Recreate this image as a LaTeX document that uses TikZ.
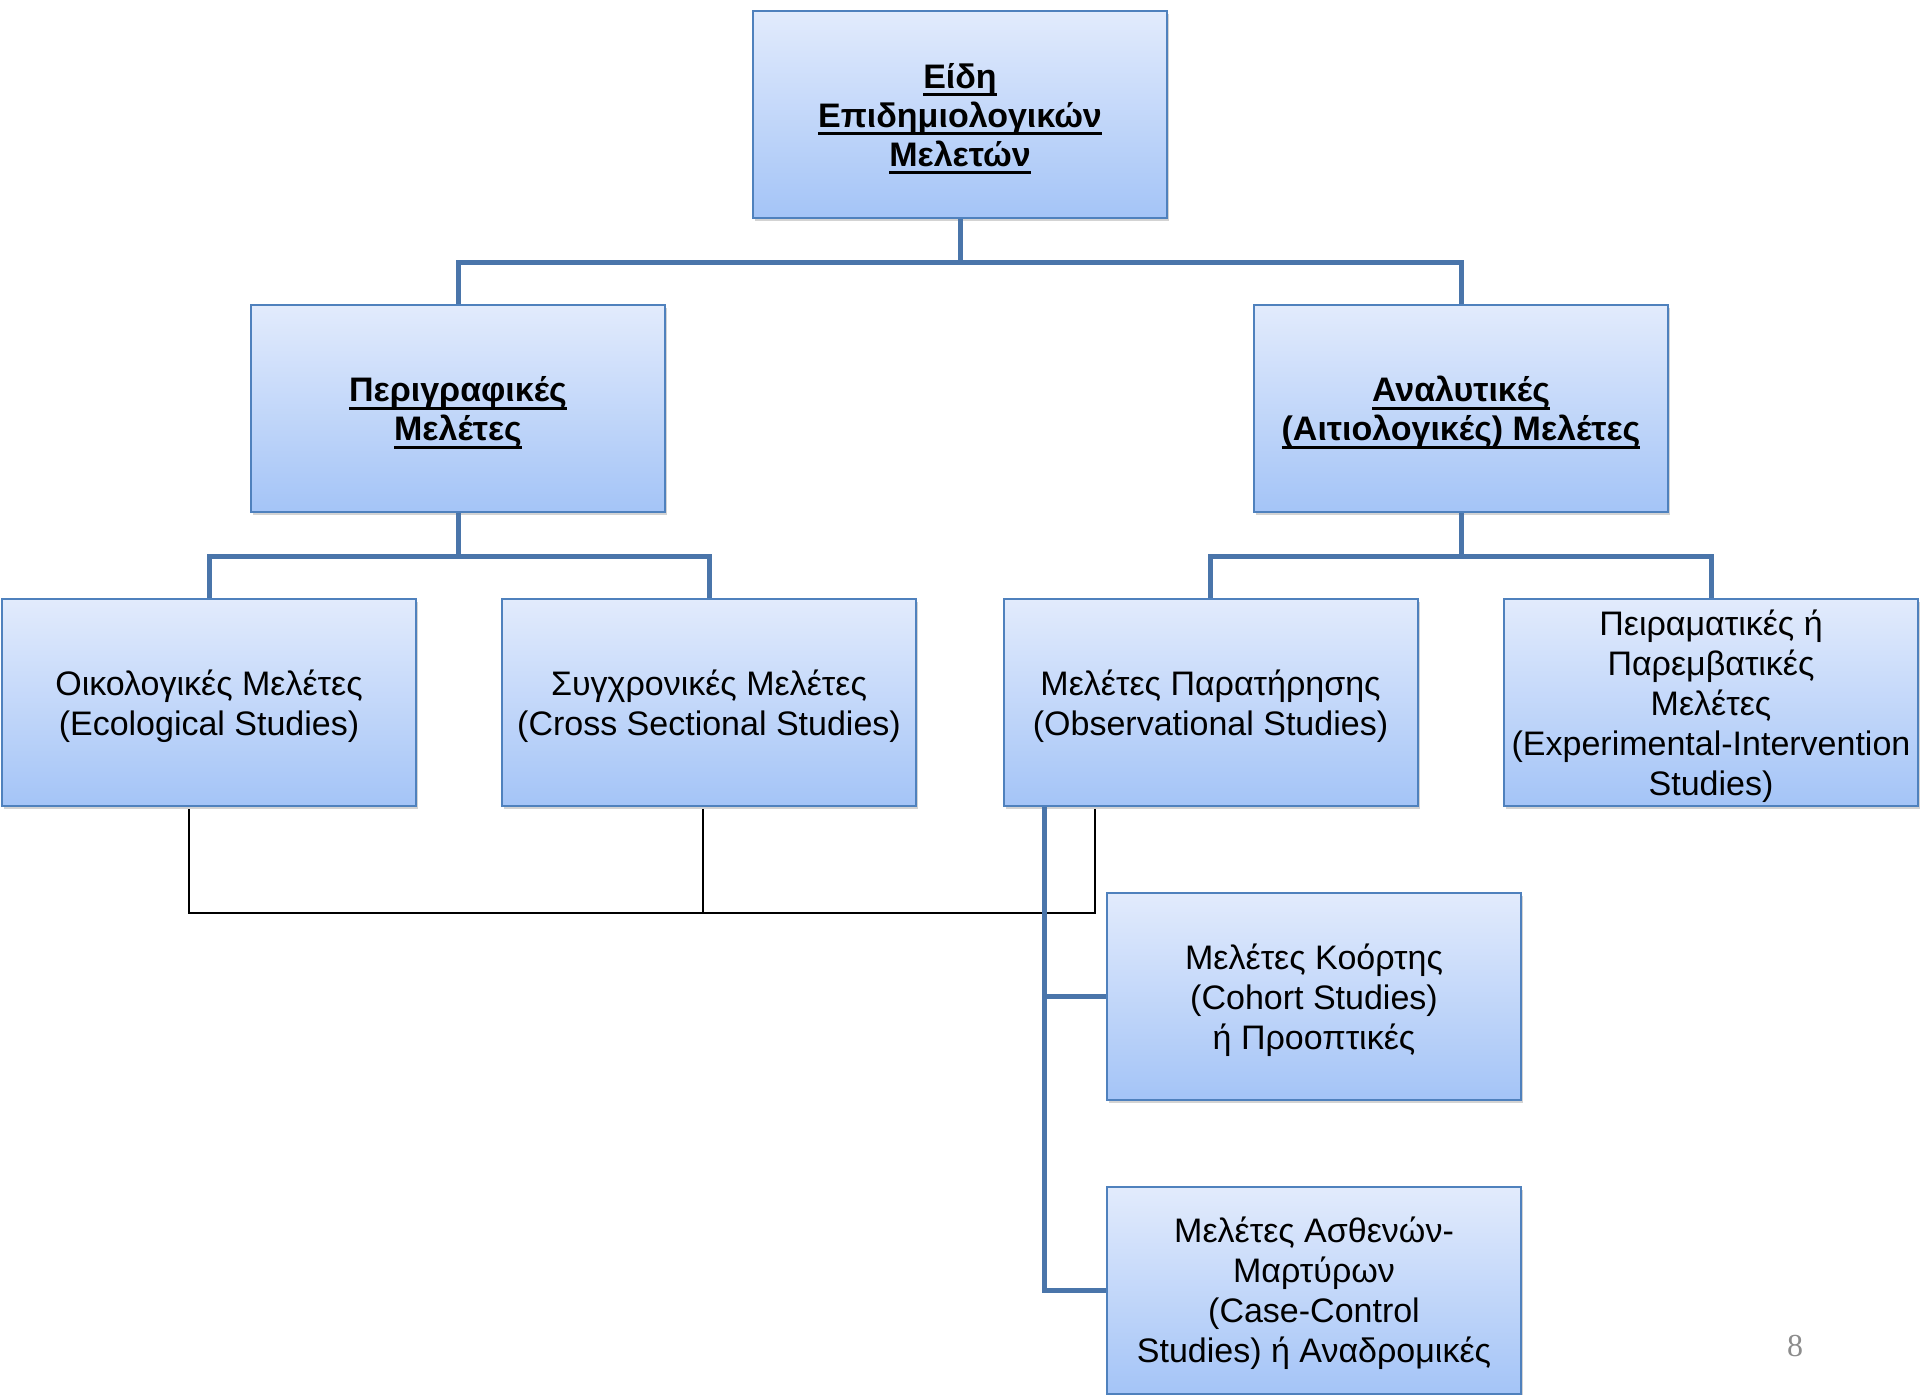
\documentclass[tikz,border=0pt]{standalone}
\usepackage{fontspec}
\setmainfont{Liberation Sans}
\newfontfamily\pagefont{Liberation Serif}
\usetikzlibrary{shadows,calc}

\definecolor{boxtop}{RGB}{226,235,252}
\definecolor{boxbot}{RGB}{164,196,247}
\definecolor{boxedge}{RGB}{79,129,189}
\definecolor{linkblue}{RGB}{74,117,170}
\definecolor{pagegray}{RGB}{140,140,140}

% underlined heading text with a thick rule below the baseline
\newcommand\ulbox[1]{\setbox0=\hbox{#1}\rlap{\rule[-4pt]{\wd0}{1.3pt}}\box0}

\begin{document}
\begin{tikzpicture}[x=0.5pt,y=-0.5pt,
  studybox/.style={draw=boxedge, line width=1pt, top color=boxtop, bottom color=boxbot,
    minimum width=207pt, minimum height=103.5pt, inner sep=0pt,
    drop shadow={shadow xshift=1.2pt, shadow yshift=-1.6pt, opacity=0.35}},
  boxtext/.style={align=center, inner sep=1pt, font=\fontsize{17}{20}\selectfont},
  headtext/.style={boxtext, font=\bfseries\fontsize{17}{19.5}\selectfont},
  tree/.style={draw=linkblue, line width=2.5pt},
  thinlink/.style={draw=black, line width=1pt}]

\useasboundingbox (0,0) rectangle (1920,1394);

% level of the thin link bar
\coordinate (bar) at (0,913);

% boxes
\node[studybox] (root) at (960,114.5) {};
\node[studybox] (desc) at (458,408.5) {};
\node[studybox] (anal) at (1461,408.5) {};
\node[studybox] (eco) at (209,702.5) {};
\node[studybox] (cross) at (709,702.5) {};
\node[studybox] (obs) at (1210.5,702.5) {};
\node[studybox] (expt) at (1711,702.5) {};
\node[studybox] (coh) at (1314,996.5) {};
\node[studybox] (cc) at (1314,1290.5) {};

% box texts, set slightly below the box centres
\node[headtext] (rootT) at ($(root.center)+(0,4)$) {\ulbox{Είδη}\\\ulbox{Επιδημιολογικών}\\\ulbox{Μελετών}};
\node[headtext] (descT) at ($(desc.center)+(0,4)$) {\ulbox{Περιγραφικές}\\\ulbox{Μελέτες}};
\node[headtext] (analT) at ($(anal.center)+(0,4)$) {\ulbox{Αναλυτικές}\\\ulbox{(Αιτιολογικές) Μελέτες}};
\node[boxtext] (ecoT) at ($(eco.center)+(0,4)$) {Οικολογικές Μελέτες\\(Ecological Studies)};
\node[boxtext] (crossT) at ($(cross.center)+(0,4)$) {Συγχρονικές Μελέτες\\(Cross Sectional Studies)};
\node[boxtext] (obsT) at ($(obs.center)+(0,4)$) {Μελέτες Παρατήρησης\\(Observational Studies)};
\node[boxtext] (exptT) at ($(expt.center)+(0,4)$) {Πειραματικές ή\\Παρεμβατικές\\Μελέτες\\(Experimental-Intervention\\Studies)};
\node[boxtext] (cohT) at ($(coh.center)+(0,4)$) {Μελέτες Κοόρτης\\(Cohort Studies)\\ή Προοπτικές};
\node[boxtext] (ccT) at ($(cc.center)+(0,3)$) {Μελέτες Ασθενών-\\Μαρτύρων\\(Case-Control\\Studies) ή Αναδρομικές};

\node[font=\pagefont\fontsize{16}{16}\selectfont, text=pagegray] (pg) at (1795,1346) {8};

% tree connectors
\draw[tree] (root.south) -- ++(0,43) -| (desc.north);
\draw[tree] (root.south) -- ++(0,43) -| (anal.north);
\draw[tree] (desc.south) -- ++(0,43) -| (eco.north);
\draw[tree] (desc.south) -- ++(0,43) -| (cross.north);
\draw[tree] (anal.south) -- ++(0,43) -| (obs.north);
\draw[tree] (anal.south) -- ++(0,43) -| (expt.north);

% thin black link joining the descriptive studies and the observational studies
\coordinate (ecoD) at ($(eco.south)+(-20,2)$);
\coordinate (crossD) at ($(cross.south)+(-6,2)$);
\coordinate (obsD) at ($(obs.south west)+(92,2)$);
\draw[thinlink] (ecoD) -- (ecoD |- bar) -- (obsD |- bar) -- (obsD);
\draw[thinlink] (crossD) -- (crossD |- bar);

% observational branch
\coordinate (obsB) at ($(obs.south west)+(42,0)$);
\draw[tree] (obsB) |- (coh.west);
\draw[tree] (obsB) |- (cc.west);
\end{tikzpicture}
\end{document}
